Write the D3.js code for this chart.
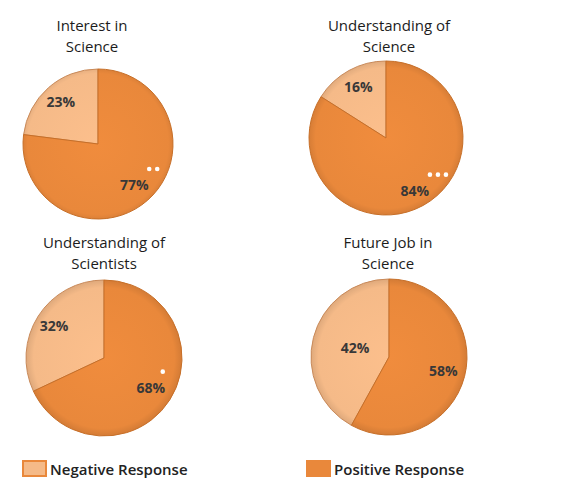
<!DOCTYPE html>
<html>
<head>
<meta charset="utf-8">
<script src="https://cdn.jsdelivr.net/npm/d3@7"></script>
<style>
  body { margin: 0; background: #fff; }
  svg { display: block; font-family: "Open Sans", sans-serif; }
</style>
</head>
<body>
<div id="chart"></div>
<script>
// data
const titles = [
  ["Interest in", "Science"],
  ["Understanding of", "Science"],
  ["Understanding of", "Scientists"],
  ["Future Job in", "Science"]
];
const categories = ["Negative Response", "Positive Response"];
const negative = [23, 16, 32, 42];
const positive = [77, 84, 68, 58];
const sigDots = [2, 3, 1, 0];

const width = 577, height = 478;

// layout per panel (centre, radius, label distance as share of radius, title offset)
const panels = [
  {cx: 98, cy: 144, r: 75, lNeg: 0.75, lPos: 0.73, ty: 26, tdx: -6},
  {cx: 386, cy: 138, r: 77, lNeg: 0.75, lPos: 0.78, ty: 26, tdx: 3},
  {cx: 104, cy: 358, r: 78, lNeg: 0.76, lPos: 0.71, ty: 243, tdx: 0},
  {cx: 389, cy: 357, r: 78, lNeg: 0.45, lPos: 0.72, ty: 243, tdx: -1}
];

const color = d3.scaleOrdinal()
  .domain(categories)
  .range(["#F5BA88", "#E9883B"]);
const edge = d3.scaleOrdinal()
  .domain(categories)
  .range(["#C98A5A", "#C76F28"]);

const svg = d3.select("#chart").append("svg")
  .attr("width", width)
  .attr("height", height);

// soft shading like the original bevel
const defs = svg.append("defs");
categories.forEach((c, i) => {
  const g = defs.append("radialGradient")
    .attr("id", "shade" + i)
    .attr("gradientUnits", "userSpaceOnUse")
    .attr("cx", 0).attr("cy", 0).attr("r", 80);
  g.append("stop").attr("offset", "0%").attr("stop-color", d3.color(color(c)).brighter(0.08));
  g.append("stop").attr("offset", "88%").attr("stop-color", color(c));
  g.append("stop").attr("offset", "100%").attr("stop-color", d3.color(color(c)).darker(0.35));
});

const pie = d3.pie()
  .sort(null)
  .value(d => d.value);

panels.forEach((p, i) => {
  const rows = [
    {key: categories[0], value: negative[i]},
    {key: categories[1], value: positive[i]}
  ];
  // negative slice sits left of 12 o'clock, positive runs clockwise from it
  const arcs = pie.startAngle(-negative[i] / 100 * 2 * Math.PI)
    .endAngle(2 * Math.PI - negative[i] / 100 * 2 * Math.PI)(rows);

  const arc = d3.arc().innerRadius(0).outerRadius(p.r);
  const g = svg.append("g").attr("transform", `translate(${p.cx},${p.cy})`);

  g.selectAll("path")
    .data(arcs)
    .join("path")
    .attr("d", arc)
    .attr("fill", (d, j) => `url(#shade${j})`)
    .attr("stroke", d => edge(d.data.key))
    .attr("stroke-width", 1);

  const labels = g.selectAll("text.lbl")
    .data(arcs)
    .join("text")
    .attr("class", "lbl")
    .each(function(d, j) {
      const k = j === 0 ? p.lNeg : p.lPos;
      const a = d3.arc().innerRadius(p.r * k).outerRadius(p.r * k);
      const [x, y] = a.centroid(d);
      d3.select(this).attr("x", x).attr("y", y);
    })
    .attr("text-anchor", "middle")
    .attr("dy", "0.35em")
    .attr("font-size", 14)
    .attr("font-weight", "bold")
    .attr("fill", "#383838")
    .text(d => d.value + "%");

  // white significance dots above the positive label
  const posLabel = labels.filter((d, j) => j === 1);
  const lx = +posLabel.attr("x"), ly = +posLabel.attr("y");
  g.selectAll("circle.sig")
    .data(d3.range(sigDots[i]))
    .join("circle")
    .attr("class", "sig")
    .attr("cx", k => lx + 15 + k * 8 - (sigDots[i] === 1 ? 3 : 0))
    .attr("cy", ly - 16)
    .attr("r", 2.3)
    .attr("fill", "#fff");

  const t = svg.append("text")
    .attr("x", p.cx + p.tdx)
    .attr("y", p.ty)
    .attr("text-anchor", "middle")
    .attr("font-size", 15)
    .attr("fill", "#1c1c1c");
  t.selectAll("tspan")
    .data(titles[i])
    .join("tspan")
    .attr("x", p.cx + p.tdx)
    .attr("dy", (d, j) => j === 0 ? "0.35em" : "1.35em")
    .text(d => d);
});

// legend
const legendX = [22, 306];
const legend = svg.append("g")
  .selectAll("g")
  .data(categories)
  .join("g")
  .attr("transform", (d, i) => `translate(${legendX[i]},460)`);

legend.append("rect")
  .attr("x", 1).attr("y", 1)
  .attr("width", 23).attr("height", 15)
  .attr("fill", d => color(d))
  .attr("stroke", color(categories[1]))
  .attr("stroke-width", 2);

legend.append("text")
  .attr("x", 28)
  .attr("y", 15)
  .attr("font-size", 15)
  .attr("font-weight", 600)
  .attr("fill", "#222")
  .text(d => d);
</script>
</body>
</html>
